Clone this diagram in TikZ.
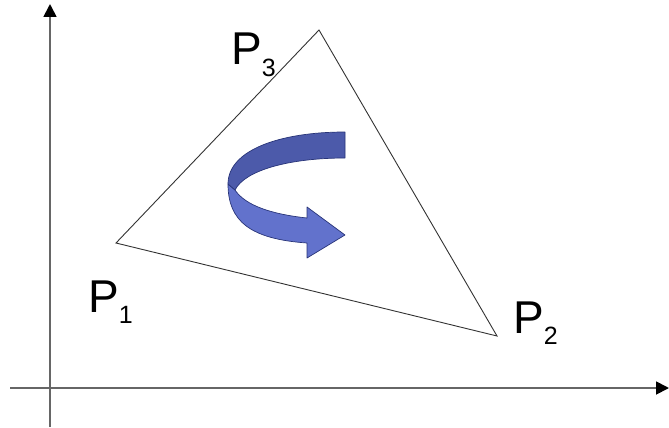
\documentclass[tikz,border=0pt]{standalone}
\usepackage{fontspec}
\setmainfont{Liberation Sans}
\usetikzlibrary{arrows.meta}
\newcommand{\plab}[1]{P\raisebox{-11pt}{\fontsize{25}{25}\selectfont #1}}
\definecolor{bandtop}{RGB}{76,90,170}
\definecolor{bandlow}{RGB}{98,114,204}
\definecolor{bandline}{RGB}{40,52,120}
\tikzset{
  axis/.style={draw=black!60, line width=1.8pt, -{Triangle[length=13pt,width=13pt,color=black]}},
  tri/.style={draw=black!80, line width=0.9pt, line join=miter},
  plabel/.style={font=\fontsize{46}{46}\selectfont, inner sep=0pt, anchor=base west},
  band/.style={draw=bandline, line width=0.7pt, line join=round}
}
\begin{document}
\begin{tikzpicture}[x=1pt,y=-1pt]
\useasboundingbox (0,0) rectangle (669,428);
% axes
\coordinate (yb) at (50,427);
\coordinate (yt) at (50,4);
\coordinate (xl) at (10,388);
\coordinate (xr) at (669,388);
\draw[axis] (yb) -- (yt);
\draw[axis] (xl) -- (xr);
% triangle
\coordinate (p1) at (116,243);
\coordinate (p2) at (497,336);
\coordinate (p3) at (319,30);
\draw[tri] (p1) -- (p2) -- (p3) -- cycle;
% labels
\node[plabel] (l1) at (88,312) {\plab{1}};
\node[plabel] (l2) at (513,333) {\plab{2}};
\node[plabel] (l3) at (231,65) {\plab{3}};
% curved ribbon arrow
\fill[bandlow, band] (228,184) .. controls (228,221) and (250,239) .. (307,243)
  -- (307,258) -- (345,235) -- (307,207) -- (307,218)
  .. controls (270,214) and (245,205) .. (235,190) -- cycle;
\fill[bandtop, band] (345,132) .. controls (280,132) and (228,150) .. (228,184)
  -- (235,190) .. controls (245,170) and (290,158) .. (345,158) -- cycle;
\end{tikzpicture}
\end{document}
